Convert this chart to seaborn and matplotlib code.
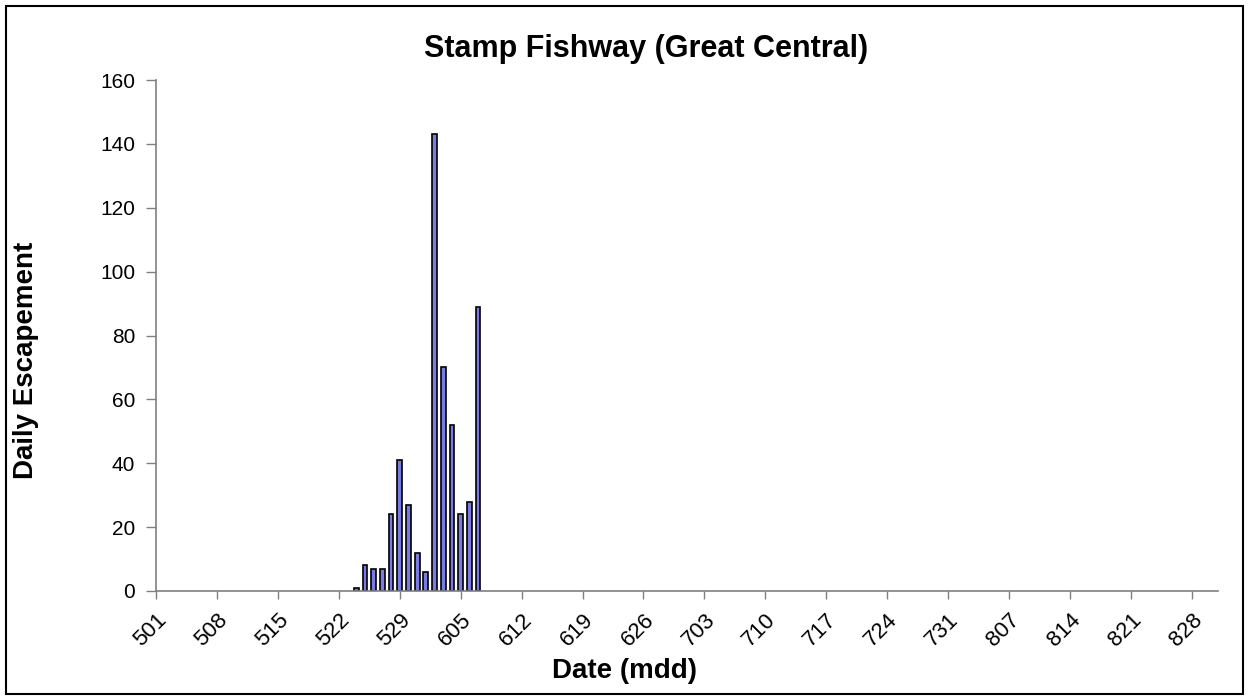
import matplotlib
matplotlib.use("Agg")
import matplotlib.pyplot as plt
import seaborn as sns
import pandas as pd
import numpy as np

# Data
bar_dates = ["524", "525", "526", "527", "528", "529", "530", "531",
             "601", "602", "603", "604", "605", "606", "607"]
bar_counts = [1, 8, 7, 7, 24, 41, 27, 12, 6, 143, 70, 52, 24, 28, 89]
tick_labels = ["501", "508", "515", "522", "529", "605", "612", "619", "626",
               "703", "710", "717", "724", "731", "807", "814", "821", "828"]
season_start = "501"
season_end = "831"
title = "Stamp Fishway (Great Central)"
xlabel = "Date (mdd)"
ylabel = "Daily Escapement"

def to_date(mdd):
    return pd.Timestamp(year=2000, month=int(mdd[:-2]), day=int(mdd[-2:]))

start = to_date(season_start)
def day_index(mdd):
    return (to_date(mdd) - start).days

df = pd.DataFrame({"day": [day_index(d) for d in bar_dates], "count": bar_counts})

sns.set_theme(style="white")
plt.rcParams["font.family"] = ["Liberation Sans", "DejaVu Sans"]
plt.rcParams["text.color"] = "black"
plt.rcParams["axes.labelcolor"] = "black"
plt.rcParams["xtick.color"] = "black"
plt.rcParams["ytick.color"] = "black"

W, H = 1249, 700
L, R, T, B = 156, 1218, 80, 591
fig = plt.figure(figsize=(W/100, H/100), dpi=100)
ax = fig.add_axes([L/W, 1-B/H, (R-L)/W, (B-T)/H])

sns.barplot(data=df, x="day", y="count", native_scale=True, ax=ax,
            color="#7B7BE8", saturation=1, width=0.55,
            edgecolor="black", linewidth=1.2)

ax.set_xlim(0, day_index(season_end))
ax.set_ylim(0, 160)
ax.set_yticks(np.arange(0, 161, 20))
ax.set_xticks([day_index(t) for t in tick_labels])
ax.set_xticklabels(tick_labels, rotation=45, ha="right", rotation_mode="anchor", fontsize=16)
ax.tick_params(axis="y", labelsize=15, direction="out", length=7, width=1, color="#808080", left=True, pad=8)
ax.tick_params(axis="x", direction="out", length=6, width=1, color="#808080", bottom=True, pad=7)

for s in ["top", "right"]:
    ax.spines[s].set_visible(False)
for s in ["left", "bottom"]:
    ax.spines[s].set_color("#808080")
    ax.spines[s].set_linewidth(1.2)

ax.set_xlabel(xlabel, fontsize=20, fontweight="bold", va="center", ha="center")
ax.xaxis.set_label_coords((625-L)/(R-L), (B-671)/(B-T))
ax.set_ylabel(ylabel, fontsize=20, fontweight="bold", va="center", ha="center")
ax.yaxis.set_label_coords((26-L)/(R-L), (B-360)/(B-T))
fig.text(646/W, 1-49/H, title, fontsize=22, fontweight="bold", ha="center", va="center")

# figure border
fig.patches.append(plt.Rectangle((6/W, 6/H), 1-12/W, 1-12/H,
                                 transform=fig.transFigure, fill=False,
                                 edgecolor="black", linewidth=1.5))

fig.savefig("out.png", dpi=100)
